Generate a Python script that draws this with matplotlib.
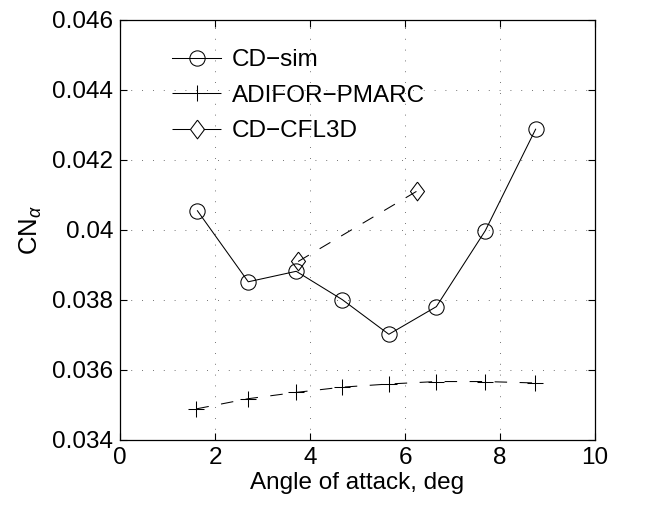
import matplotlib
matplotlib.use("Agg")
import matplotlib.pyplot as plt

plt.rcParams['font.family'] = ['Liberation Sans', 'DejaVu Sans']
plt.rcParams['mathtext.fontset'] = 'custom'
plt.rcParams['mathtext.rm'] = 'Liberation Sans'
plt.rcParams['mathtext.it'] = 'Liberation Sans:italic'

cd_sim_x = [1.63, 2.70, 3.71, 4.68, 5.66, 6.66, 7.69, 8.75]
cd_sim_y = [0.04055, 0.03852, 0.03882, 0.03801, 0.03702, 0.03781, 0.03998, 0.04288]

adifor_x = [1.61, 2.70, 3.71, 4.68, 5.66, 6.66, 7.69, 8.73]
adifor_y = [0.03489, 0.03518, 0.03536, 0.03551, 0.03560, 0.03567, 0.03567, 0.03563]

cfl3d_x = [3.75, 6.25]
cfl3d_y = [0.03910, 0.04111]

xticks = [0, 2, 4, 6, 8, 10]
yticks = [0.034, 0.036, 0.038, 0.04, 0.042, 0.044, 0.046]
ytick_labels = ['0.034', '0.036', '0.038', '0.04', '0.042', '0.044', '0.046']

FS = 17.5
fig = plt.figure(figsize=(6.7, 5.21), dpi=100)
ax = fig.add_axes([120/670, 81/521, 475/670, 420/521])

lw = 0.75
diamond = [(0, 1), (0.75, 0), (0, -1), (-0.75, 0), (0, 1)]
ax.plot(cd_sim_x, cd_sim_y, '-', color='black', lw=lw, marker='o', markersize=11,
        markerfacecolor='none', markeredgewidth=lw, label='CD\u2212sim')
ax.plot(adifor_x, adifor_y, '--', color='black', lw=lw, marker='+', markersize=12,
        markeredgewidth=lw, dashes=(12, 12), label='ADIFOR\u2212PMARC')
ax.plot(cfl3d_x, cfl3d_y, '--', color='black', lw=lw, marker=diamond, markersize=13.5,
        markerfacecolor='none', markeredgewidth=lw, dashes=(12, 12), label='CD\u2212CFL3D')

ax.set_xlim(0, 10)
ax.set_ylim(0.034, 0.046)
ax.set_xticks(xticks)
ax.set_xticklabels([str(t) for t in xticks])
ax.set_yticks(yticks)
ax.set_yticklabels(ytick_labels)
ax.tick_params(direction='in', top=True, right=True, labelsize=FS, length=5, width=0.8, pad=5)
ax.grid(True, linestyle=(0, (1, 12)), color='#444444', lw=0.6)
for s in ax.spines.values():
    s.set_linewidth(0.9)

ax.set_xlabel('Angle of attack, deg', fontsize=FS, labelpad=2)
ax.set_ylabel(r'$\mathrm{CN}_{\alpha}$', fontsize=FS + 1, labelpad=6)

leg = ax.legend(loc='upper left', frameon=False, fontsize=FS, handlelength=2.0,
                borderaxespad=0, borderpad=0, labelspacing=0.55, handletextpad=0.45,
                bbox_to_anchor=(0.11, 0.93))
for h in leg.get_lines()[1:]:
    h.set_dashes((17, 13))

fig.savefig('out.png', dpi=100)
